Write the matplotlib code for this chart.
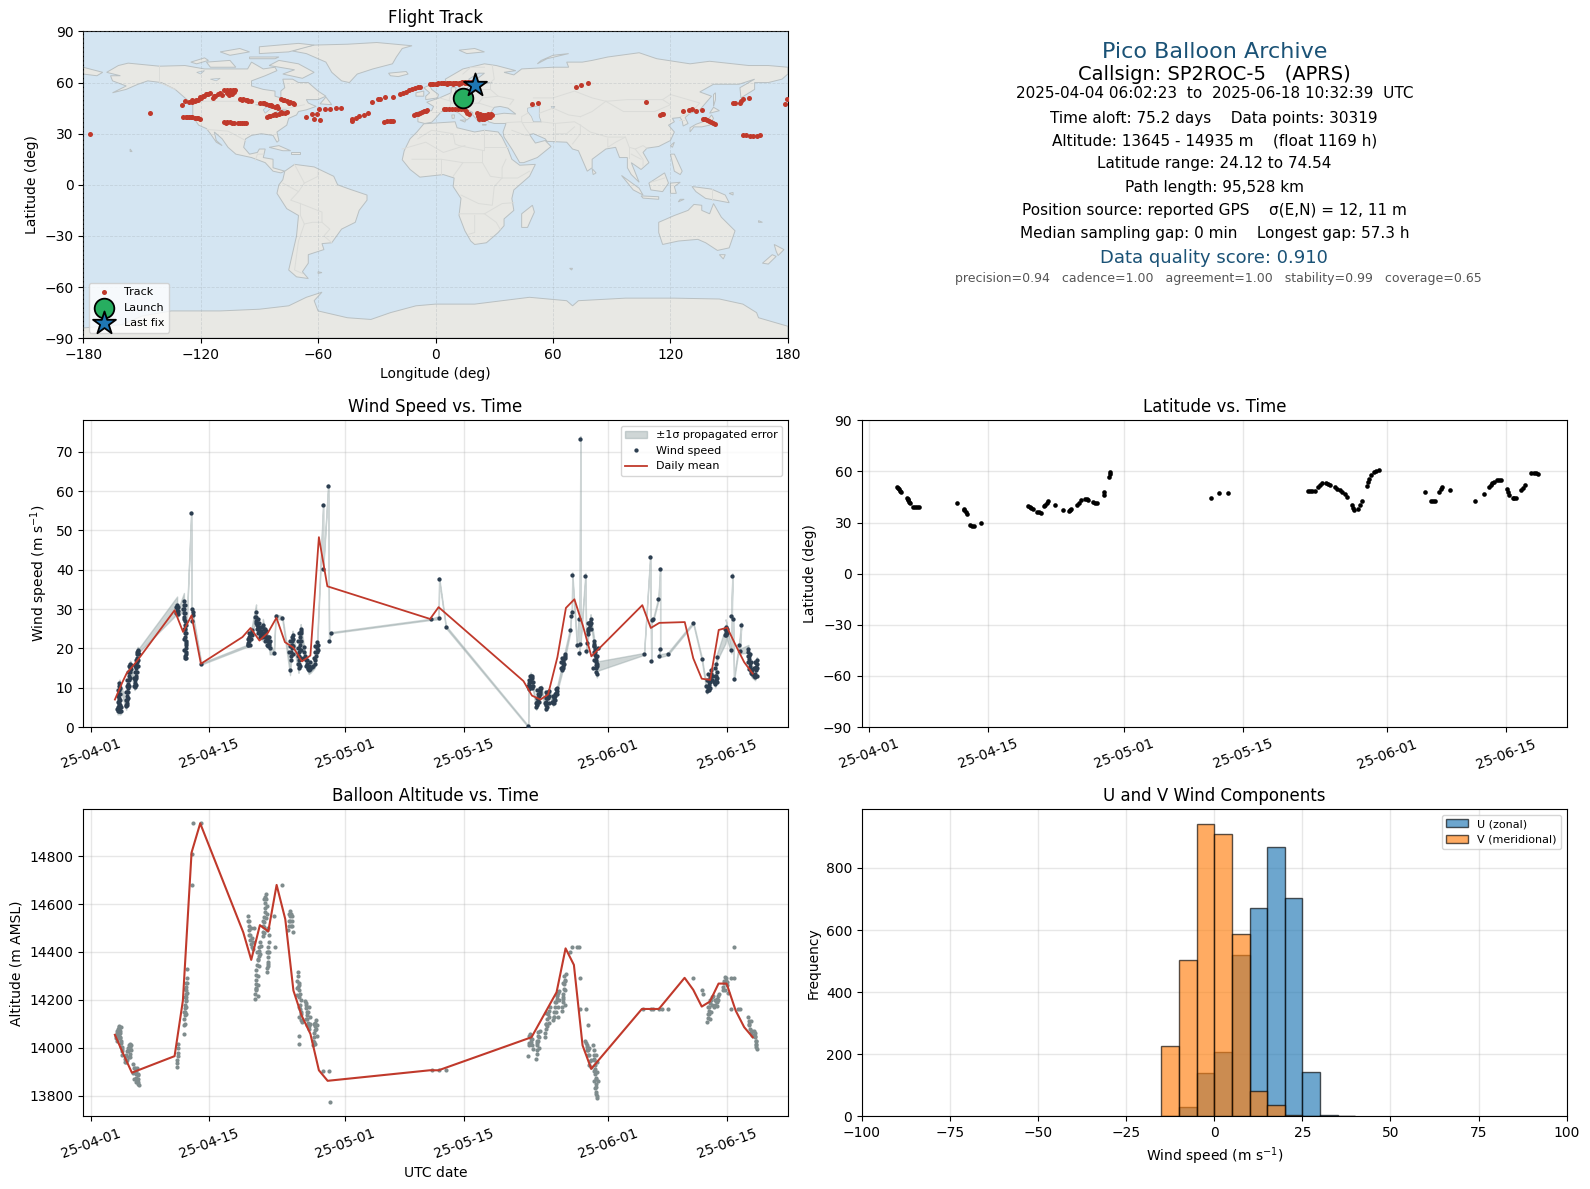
import datetime as dt
import matplotlib
matplotlib.use("Agg")
import matplotlib.pyplot as plt
import matplotlib.dates as mdates
from matplotlib.patches import Polygon

# ---------- map outlines (lon, lat) ----------
north_america = [(-168,66),(-162,70),(-157,71.4),(-141,69.6),(-128,70),(-118,68),(-108,68),(-96,68),(-94,72),(-88,68),(-82,69),(-81,67),(-87,64),(-94,61),(-94,58),(-88,56),(-82,55),(-82,52),(-79,51),(-79,55),(-77,57),(-78,62),(-73,62),(-70,60),(-65,60),(-60,55),(-56,52),(-60,50),(-66,50),(-65,48),(-61,46),(-66,44),(-70,43),(-71,41),(-75,39),(-76,35),(-81,31),(-80,26),(-81,25),(-83,29),(-89,30),(-94,29),(-97,27),(-98,22),(-95,18),(-91,19),(-90,21),(-87,21),(-88,16),(-83,15),(-83,10),(-80,9),(-77,8),(-79,7),(-83,8),(-87,13),(-94,16),(-102,18),(-106,22),(-109,27),(-113,31),(-112,26),(-109,23),(-112,25),(-115,30),(-117,33),(-121,35),(-124,40),(-124,47),(-128,51),(-133,56),(-140,60),(-147,61),(-152,59),(-158,56),(-165,54),(-158,58),(-165,61),(-166,64),(-161,64)]
south_america = [(-77,8),(-72,12),(-62,10.5),(-52,5),(-50,0),(-44,-2.5),(-35,-6),(-35,-9),(-39,-15),(-41,-22),(-48,-26),(-53,-34),(-58,-34.5),(-57,-38),(-65,-41),(-65,-46),(-68,-51),(-65,-55),(-71,-54),(-75,-50),(-73,-40),(-71,-30),(-70,-18),(-76,-14),(-81,-5),(-80,0),(-78,3)]
africa = [(-6,35.8),(10,37),(11,33.5),(20,31),(25,32),(32,31),(34,28),(37,21),(39,15),(43,11.5),(51,12),(48,5),(40,-3),(39,-8),(40,-15),(35,-20),(35,-24),(32,-28),(26,-34),(20,-35),(18,-33),(15,-27),(12,-18),(13,-8),(9,-1),(9.5,4),(4,6),(-4,5),(-8,4.5),(-13,9),(-17,14.7),(-16,20),(-13,27),(-9.5,31)]
eurasia = [(-9,37),(-9,43),(-2,43.5),(-1,46),(-4.5,48.5),(2,51),(8,54),(8,57),(10.5,57),(10,54),(14,54),(20,54.5),(22,59),(29,60),(23,60),(21,62),(25,65.5),(22,65.5),(17,62),(18,60),(16,56),(13,55.5),(11,59),(6,58),(5,62),(14,68),(25,71),(31,70),(41,67),(35,66),(40,64.5),(44,68),(60,69),(68,69),(67,72),(75,72),(80,73),(88,75),(104,77.5),(113,74),(130,71),(140,72.5),(160,70),(170,70),(180,69),(180,65),(177,62),(170,60),(163,60),(163,56),(156,51),(155.5,57),(163,62),(155,59),(142,59),(135,54.5),(141,52),(135,44),(130,42),(127.5,39.5),(129,36),(126.5,34.5),(126,37.5),(125,39.5),(121,39),(122,37),(119,35),(122,31),(120,26),(114,22.5),(108,21.5),(106,19),(109,13),(105,9),(100,13),(104,1.5),(100,6),(98,10),(98,16),(94,16),(92,22),(87,21),(80,15),(80,10),(77.5,8),(73,20),(70,21),(67,25),(57,25.5),(56,27),(50,30),(48,29.5),(51,24.5),(56,26),(59,22.5),(52,16),(45,13),(43,13),(39,21),(35,28),(34.5,31),(36,36),(30,36),(27,37),(26.5,40),(29,41),(35,42),(41,41.5),(37,45),(33,46),(30,45.5),(28,42),(26,40.5),(23,40),(24,38),(22.5,36.5),(19,41),(19,42.5),(14,45),(12.5,44.5),(18,40),(16,38),(12,42),(8.5,44),(3,43),(0,39),(-2,36.7),(-5.5,36)]
greenland = [(-73,78.5),(-66,77),(-56,72),(-53,66),(-48,61),(-44,60),(-40,65),(-32,68),(-22,71),(-20,75),(-17,80),(-12,81.6),(-30,83.5),(-45,82.5),(-62,82),(-68,80.5)]
australia = [(114,-22),(122,-18),(129,-15),(132,-11.5),(136,-12),(136,-15),(140,-17),(142,-11),(146,-19),(153,-27),(150,-37),(144,-38.5),(138,-34),(134,-32),(124,-33),(116,-35),(114,-28)]
antarctica = [(-180,-90),(-180,-84),(-160,-82),(-150,-77),(-135,-74),(-110,-74),(-90,-73),(-75,-71),(-66,-66),(-58,-63),(-62,-68),(-60,-74),(-45,-78),(-33,-79),(-23,-75),(-10,-71),(0,-70),(20,-70),(48,-66),(67,-68),(70,-71),(73,-68),(97,-66.5),(122,-66.5),(145,-67),(157,-70),(164,-75),(165,-78),(180,-83),(180,-90)]
islands = [
    [(49.5,-12),(50.5,-16),(47,-25),(44,-25),(44,-17)],
    [(-5,50),(1,51),(1.5,53),(-2,56),(-3,58.5),(-6,57),(-3,54),(-5,52)],
    [(-10,52),(-6,52),(-6,55),(-10,54)],
    [(-24,65.5),(-15,66.5),(-14,65),(-19,63.5),(-23,64)],
    [(130,31),(132,34),(136,34),(140,35),(142,39),(141,41),(139,38),(133,35.5),(130,33.5)],
    [(140,42),(145,43.5),(142,45.5)],
    [(142,46),(143,50),(143,54),(142,53)],
    [(95,5.5),(104,-2),(106,-6),(101,-3)],
    [(105,-6.5),(114,-7),(114,-8.5),(106,-7.8)],
    [(109,1),(117,7),(119,1),(116,-4),(110,-3)],
    [(120,-5),(120,1),(125,1.5),(122,-1),(123,-5)],
    [(131,-1),(141,-2.5),(148,-6),(150,-10.5),(143,-9),(138,-8),(133,-4)],
    [(120,18),(122,18),(124,13),(126,8),(125,6),(122,8),(121,13)],
    [(120,23),(122,25),(121,22)],
    [(80,9.5),(82,7),(80.5,6)],
    [(173,-35),(178,-38),(175,-41.5),(174,-39)],
    [(172,-41),(174,-42),(170,-46.5),(167,-46)],
    [(145,-41),(148,-41),(147,-43.5)],
    [(-85,22),(-80,23),(-74,20),(-78,20)],
    [(-74,19.5),(-69,19.5),(-69,18),(-74,18)],
    [(52,71),(57,74),(68,77),(60,76),(54,73)],
    [(12,79),(20,80),(25,78),(16,77)],
    [(-80,73),(-70,71),(-62,66),(-68,62.5),(-78,65),(-72,67.5),(-85,70)],
    [(-117,72),(-105,73),(-102,69),(-115,69)],
    [(-125,72),(-118,74.5),(-116,73),(-122,71)],
    [(-90,77),(-75,78),(-62,82),(-70,83),(-90,81)],
    [(-95,75),(-80,75),(-82,74),(-95,74)],
    [(-105,76),(-95,78),(-100,80),(-110,78)],
    [(-59,47.5),(-53,47),(-56,51.5)],
    [(-180,69),(-170,66),(-173,64),(-180,65)],
    [(12.5,38),(15.5,38),(15,36.8)],
    [(8.3,41),(9.7,41),(9.5,39),(8.5,39)],
    [(24,35.5),(26,35.2),(24,35)],
    [(68.5,-49),(70,-49),(69.5,-50)],
    [(-156,21),(-155,19.5),(-156,19.5)],
    [(-60,-51),(-58,-51.5),(-60,-52)],
    [(125,-8.5),(127,-8.5),(124,-10)],
    [(150,-5),(152,-4.5),(152,-6)],
    [(165,-21),(167,-22),(165,-22)],
]
water_bodies = [
    [(47,45),(53,46.5),(53,40),(54,37),(50,37),(49,40),(47,43)],
    [(-92,47),(-85,47.5),(-84.5,46),(-80,45.5),(-81,43),(-83,42),(-79,43),(-76,44),(-80,44.5),(-84,45),(-87,42),(-88,44),(-86,46)],
    [(59,46),(61,46),(60,44.5)],
    [(-122,66),(-118,67),(-120,65)],
    [(-115,62),(-110,62.5),(-112,61)],
]
borders = [
    [(-123,49),(-95,49),(-88,48),(-82,45),(-75,45),(-67,47)],
    [(-141,70),(-141,60),(-133,56)],
    [(-117,32.5),(-106,31.5),(-97,26)],
    [(-92,14.5),(-91,18),(-88,18)],
    [(-72,12),(-67,1),(-70,-4),(-74,-9),(-69,-11),(-69,-18)],
    [(-78,1),(-70,-4)],
    [(-60,8),(-60,5),(-67,1)],
    [(-69,-11),(-58,-16),(-58,-22),(-54,-26),(-57,-30),(-53,-34)],
    [(-69,-18),(-67,-23),(-70,-33),(-72,-50),(-68,-52)],
    [(-58,-22),(-63,-22),(-67,-23)],
    [(-9,27),(-2,32),(9,30),(10,24),(12,23),(25,20),(25,32)],
    [(25,22),(37,22)],
    [(-17,21),(-5,25),(4,19),(15,23)],
    [(-12,15),(3,15),(14,13),(24,13),(24,20)],
    [(3,15),(3,6)],
    [(14,13),(9,5)],
    [(24,13),(28,5),(34,4),(42,4),(48,8)],
    [(36,15),(34,10),(34,4)],
    [(34,4),(30,-1),(29,-12),(22,-11),(13,-6)],
    [(40,-10.5),(34,-11),(25,-17),(12,-17)],
    [(33,-26),(31,-22),(25,-17)],
    [(20,-18),(20,-28),(17,-29)],
    [(-2,43),(3,43)],
    [(2,51),(8,49),(7,44)],
    [(8,54),(7,50),(8,48),(13,47),(14,51),(14,54)],
    [(13,47),(22,48),(24,51),(23,54)],
    [(22,48),(29,45.5)],
    [(24,51),(32,52),(40,50),(38,47)],
    [(28,56),(32,52)],
    [(28,60),(28,56),(21,56)],
    [(29,70),(30,62),(28,60)],
    [(14,65),(18,69),(25,69)],
    [(47,42),(44,40),(44,37),(36,36.5)],
    [(44,37),(46,33),(48,30)],
    [(39,32),(46,29),(48,29)],
    [(44,37),(54,37)],
    [(61,36),(61,25)],
    [(54,37),(61,36),(71,37),(74,35)],
    [(61,30),(67,30),(71,34)],
    [(53,42),(60,45),(68,41),(74,40)],
    [(50,51),(60,51),(71,55),(80,51),(87,49)],
    [(87,49),(98,50),(108,50),(116,50),(120,53),(135,48),(131,43)],
    [(87,49),(96,43),(112,43),(120,47),(116,50)],
    [(74,40),(80,43),(87,49)],
    [(74,35),(79,31),(88,28),(97,28),(99,22),(102,21),(106,23),(108,21.5)],
    [(74,35),(74,30),(70,24)],
    [(88,27),(88,22),(92,25),(97,28)],
    [(99,22),(99,16)],
    [(102,21),(106,15),(106,11)],
    [(100,18),(105,15)],
    [(130,42),(125,40)],
    [(127,38),(124.5,38)],
    [(141,-2.5),(141,-9)],
    [(110,1.5),(117,4)],
]

# ---------- track ----------
track_lon = [-176.6,-145.6,-129.4,-125.8,-124.5,-123,-121.5,-120,-119,-117.5,-116,-115,-113.8,-112.5,-111,-110.2,-107.8,-106.5,-105,-103.5,-102.5,-106.5,-105.4,-104,-100,-98.5,-97,-95.7,-89.7,-88,-86.5,-85,-83.5,-82,-80.5,-78.9,-77.5,-76,-74.5,-73,-72.1,
             -129,-127.5,-126,-124.5,-123,-121.5,-120.3,-108.2,-106.5,-105,-103,-101,-99,-97,-86.1,-84.5,-83,-81.5,-80,-78.5,-77,-76,
             -66.1,-63.2,-60.3,-62,-58.9,-59.4,-56.5,-53.8,-50.7,-48.3,-42.7,-42.5,-40.8,-38.9,-36.7,-34.3,-26.4,-25,-23.5,-22.5,-21.6,-32.6,-29.5,-28.5,-25.7,-21.6,-18.2,-16.5,-15.1,-13.5,-11.9,-10.5,-9,-7.8,
             -3,-1.5,0,1.5,3,4.5,6,7.5,9,10.5,12,13.5,15,16.5,18,19.9,-11,-10,-9,-8,-7,-6,-5,-4.2,
             4.2,5.5,7,8.5,10,11.5,13,14.5,15.5,16.3,17,21,22.5,24,25.5,27,28.5,29,21.5,23,24.5,26,27.5,22,23.5,25,26.5,23,24.5,26,
             49.5,52.6,71.6,74.5,78.1,107.3,114.5,115.5,116,126.3,129.4,131.1,133,135.9,136.6,137.5,138.5,139.5,140.5,141.5,142.7,
             152,153,155.9,157.1,155.7,160,157,158.5,160.5,162,164,165.5,178.3,179.3,
             -128,-124.5,-122.5,-120.5,-118.5,-116.5,-113,-109,-106,-104.5,-102.8,-99,-96.5,-94.5,-87.5,-84,-81,-78,-75,-127,-125,-122,-107,-104,-100,-98,-85,-82,-79,
             -2,1,4,7,10,13,16,19,6,9,12,15,22,24,26,28,22.5,25,27.5]
track_lat = [30,42.4,47,48.6,48.8,49,50,51,52,53,53.5,53.7,51.2,52,53,53.7,55.5,55.5,55.7,55.5,55.5,54,52.5,53.2,50.6,50.2,49.8,49.2,48.2,47.8,47.3,46.8,46.3,45.8,45.3,50.2,49.7,49.2,48.6,48,47.3,
             40,40,39.8,39.6,39.4,39.2,38.9,36.9,36.7,36.6,36.5,36.5,36.5,36.5,40,40.4,40.8,41.2,41.6,42,42.4,42.8,
             40,41.4,41.4,38.9,38.1,44.7,44.7,44.7,44.9,45.3,38.5,37.6,39.3,40.4,41.2,42.4,37.1,37.3,37.5,37.6,37.7,48.8,50.2,50.4,51.8,51.8,53.5,54.1,54.7,55.5,56.4,57,57.3,57.6,
             59.4,59.4,59.4,59.5,59.5,59.6,59.7,59.8,59.9,60,60,60.1,60.1,60.2,60.2,60.3,40.8,41.3,41.8,42.3,42.8,43.2,43.6,43.9,
             44.7,44.7,44.7,44.6,44.6,44.5,44.5,44.3,43.4,42.4,41.4,42.4,41.8,41,41,41.8,41.4,40.8,40.4,40,39.6,39.5,40.5,38.5,38.5,38.8,39.5,39.2,39.8,40.2,
             47.3,47.8,57.6,58.8,60,48.8,41,41.4,41.8,43.6,43.8,44.7,43.2,43.8,38.9,38.4,38,37.5,37,36.3,35.5,
             48.2,48.2,49.2,50.6,47.8,51.2,29,29,28.7,28.5,28.8,29,47.7,50.2,
             49,49.5,50,51.5,52.3,53,52,52.5,54.5,54,54.5,50,49.7,49,48,46.6,46.2,49.8,48.3,40,39.8,39.2,36.5,36.4,36.4,36.4,40.3,41.3,42.5,
             59.2,59.2,59.6,59.6,59.8,59.9,60,60,59,59.2,59.4,59.6,39.6,39.2,39.2,39.6,40.8,40.2,39.6]
launch_lon = [14.2]
launch_lat = [51.0]
last_lon = [20.3]
last_lat = [58.7]

# ---------- wind speed (days since 1 April) ----------
wind_day = [3.2,3.3,3.4,3.5,3.6,3.3,3.4,3.5,3.3,3.4,3.3,3.35,3.4,3.4,
            4.2,4.25,4.3,4.25,4.3,4.4,4.45,4.5,4.5,4.55,4.6,4.65,4.75,4.75,
            5.2,5.2,5.25,5.3,5.3,5.3,5.35,5.45,5.45,5.5,5.55,5.65,
            10.2,10.2,10.2,10.25,
            11.0,11.0,11.05,11.05,11.05,11.1,11.1,11.15,11.15,11.15,11.2,11.2,11.2,11.2,11.15,11.15,
            11.86,11.9,12.0,12.1,12.05,13.05,
            18.6,18.6,18.7,18.7,18.8,18.85,19.0,
            19.5,19.5,19.55,19.6,19.7,19.8,19.9,20.0,20.1,20.2,
            20.3,20.4,20.5,20.6,20.7,20.8,20.9,21.0,21.05,21.1,
            21.6,21.8,22.6,
            23.5,23.6,23.6,23.65,23.7,23.7,23.75,23.75,23.8,
            24.5,24.5,24.55,24.55,24.6,24.6,24.65,24.65,24.7,24.7,24.75,24.75,
            25.1,25.2,25.3,25.4,25.5,25.6,25.7,25.9,26.2,26.4,26.5,26.6,26.65,26.7,26.7,
            27.4,27.4,28.0,28.1,28.3,
            40.1,41.0,41.07,41.86,51.55,
            51.6,51.65,51.7,51.8,51.85,51.95,52.0,52.1,
            52.5,52.55,52.6,52.7,52.8,52.9,53.0,53.1,
            53.6,53.65,53.7,53.75,53.8,53.9,54.0,
            54.5,54.55,54.65,54.7,54.8,54.9,55.0,
            55.5,55.55,55.6,55.65,55.7,55.75,55.9,55.9,
            56.5,56.6,56.7,56.75,57.3,57.5,57.6,57.7,57.7,58.3,58.4,58.5,
            58.6,58.65,58.7,58.8,58.85,58.9,
            59.3,59.3,59.35,59.4,59.4,59.45,59.5,59.5,59.55,59.6,59.6,59.65,59.7,
            65.2,65.93,66.05,66.1,66.3,66.9,67.1,67.1,67.0,68.0,71.0,72.0,
            72.6,72.7,72.8,72.85,72.9,73.0,73.05,73.1,
            73.6,73.65,73.7,73.75,73.6,73.7,73.8,
            74.8,74.85,74.9,74.8,75.5,75.6,75.5,75.7,75.8,76.4,76.65,76.5,
            77.5,77.5,77.55,77.6,77.65,77.7,77.75,77.8,77.9,
            78.3,78.3,78.35,78.4,78.45,78.5]
wind_speed = [4,4.5,4,4,4.2,5.5,6,5.5,7,7.5,8.5,9.5,10.5,11.3,
              5.3,6.2,7,8,9,10,11,12,13,14,15,16,15.7,14.8,
              10.3,11.2,12,13,14,15,16,16.5,17.5,18.5,19.5,19.4,
              31,30.3,29.5,28.8,
              32,31,30,29,28,27,26,25,24,23,22,21,20,19,18,17.5,
              54.5,30,27,29.2,28.4,16.1,
              20.8,21.5,22,22.8,23.4,24,24.6,
              29.2,28,27,26,25.5,25,24.5,24,23.5,23,
              26,25,24,23.5,23,22.5,22,21.5,21,20,
              18.9,28.2,27.7,
              14.4,17,18,19,20,21,22,23,23.3,
              15,16,17,18,19,20,21,22,23,24,24.5,25,
              20.3,19,18,17,16,15,14.5,14.8,15.5,16,17,18,19,20,21.6,
              56.4,40.3,61.4,22,24,
              27.4,27.8,37.7,25.5,0.2,
              9.7,10.5,11.2,12,13.1,12.5,11.5,10.5,
              5,5.8,6.5,7.2,8,8.8,9.5,10,
              4.7,5.5,6.5,7.5,8.3,9,9.3,
              6,6.8,7.3,8,8.6,9.3,10,
              14.4,15,15.6,16.2,16.8,17.5,18,18.6,
              24.6,28.3,29.3,38.7,20.9,27.5,18.9,73.3,21.2,38.5,19.4,21.4,
              23.7,24.5,25.2,26,26.8,27.5,
              22,21.2,20.5,19.8,19,18.4,17.7,17,16.5,15.8,15,13.6,15.5,
              18.6,43.3,16.9,27.3,27.5,32.6,40.2,19.9,18.1,18.6,26.5,17.4,
              9.3,10,10.7,11.4,12,12.8,13.6,14.4,
              11,12,13,14,15,16,17.8,
              23.3,24,24.7,25.4,19.5,38.5,28.3,27.5,12.3,20.9,26,19.3,
              19.9,19,18,17.2,16.4,15.6,14.8,14.2,13.6,
              12.7,13.6,14.5,15.4,16.2,17]
wind_sigma = [0.8]*14 + [0.9]*14 + [0.9]*11 + [0.5] + [2.2,1.3,0.8,0.8] + [2.1,1.8,1.3,1.0,1,1,1,1,1,1,1,1,1,1,1,0.4] + [0.4,0.6,0.6,0.5,0.5,0.2] + \
             [0.25,1.0,1,1,1,1,1] + [2.0,2.0,1.5,1.5,1.5,1.5,1.5,1,1,1] + [1.5]*10 + [0.4,0.5,0.5] + [1.2]*9 + [1.2]*12 + [1.0]*15 + [0.5,0.4,0.4,0.3,0.15] + \
             [0.15,0.4,0.4,0.3,0.2] + [0.8]*8 + [0.6]*8 + [0.6]*7 + [0.7]*7 + [1.0]*8 + [0.7]*12 + [1.2]*6 + \
             [1,1,1,1,1,1,1,1,1,1,1,1,1.2] + [0.25,0.4,0.4,0.4,0.4,0.4,0.4,0.4,0.4,0.3,0.3,0.4] + [0.8]*8 + [0.9]*7 + [2.0,2.0,2.0,2.0,0.8,0.6,0.6,0.6,0.5,0.6,0.6,0.6] + [1.0]*9 + [0.8]*6

# extra points that fill the dense clusters (markers only)
wind_extra_day = [3.15,3.25,3.45,3.6,3.2,3.45,3.25,3.45,3.25,3.45,
                  4.15,4.35,4.15,4.4,4.2,4.45,4.3,4.55,4.35,4.6,4.45,4.7,4.5,
                  5.1,5.35,5.15,5.4,5.2,5.45,5.25,5.55,5.35,5.6,5.45,5.7,
                  10.1,10.3,10.1,10.3,
                  11.1,10.95,11.15,11.0,11.25,11.0,11.3,11.05,11.3,11.05,11.3,11.25,
                  18.5,18.8,18.6,18.9,18.7,19.0,
                  19.4,19.7,19.45,19.8,19.6,19.95,19.75,20.1,19.95,20.25,
                  20.2,20.5,20.3,20.65,20.45,20.85,20.6,21.0,20.75,21.1,20.85,
                  23.4,23.8,23.45,23.85,23.5,23.85,
                  24.4,24.7,24.4,24.75,24.45,24.8,24.45,24.8,24.5,24.8,
                  25.2,25.5,25.35,25.7,25.6,25.9,26.1,26.3,26.5,26.8,26.5,26.8,
                  51.55,51.75,51.95,51.6,51.75,51.95,52.1,
                  52.45,52.65,52.85,52.55,52.75,53.0,52.65,52.9,
                  53.55,53.75,53.95,53.6,53.85,53.7,54.05,
                  54.4,54.6,54.75,54.5,54.7,54.95,54.8,
                  55.4,55.7,55.45,55.8,55.5,55.85,
                  58.55,58.9,58.6,58.95,
                  59.2,59.55,59.25,59.65,59.3,59.7,59.35,59.75,
                  72.5,72.8,73.0,72.6,72.95,73.15,72.7,73.2,
                  73.5,73.8,73.55,73.85,
                  74.7,75.0,74.7,75.0,
                  77.4,77.7,77.45,77.8,77.6,77.95,77.8,
                  78.2,78.55,78.2,78.55,78.25,78.5]
wind_extra_speed = [4.5,5,5,5,6.5,6.8,8,8.5,9.5,10,
                    5.5,5.5,7,7.5,9,9,10.5,10.5,12,12.5,14,14,15.5,
                    10.5,10.8,12.5,12.5,14,14,15.5,15.5,17,17,19,18.5,
                    29,29.5,30.5,30.5,
                    31,30,29,27.5,26,25,24,22.5,21.5,19.5,18.5,17.5,
                    21,21,22.5,22.5,24,23.5,
                    28,27.5,26.5,26.5,25,25.5,24,24.5,23,23.5,
                    25.5,25,24,24.5,23,23,22,23,21,22,20.5,
                    19,18.5,20.5,20.5,22,22.5,
                    16,15.5,18,17.5,20,19.5,22,22,24,24,
                    17.5,17,15.5,15.5,14.8,16.5,15.3,17.5,19,19.5,20.5,21,
                    10.5,10.5,10,12,13,13,11.5,
                    6,5.5,6.5,7.5,8.5,8.5,9.5,10,
                    6,5,6,7.5,7.5,9,8,
                    6.5,6,7,7.8,8.5,8.5,9.8,
                    15,15,16.5,16,17.5,17.5,
                    25,25,26.5,26.5,
                    15,14,17,16,19,18,20.5,20,
                    10.5,9.5,10,12,11.5,12,13.5,13,
                    11.5,11.5,13,12.5,
                    23.5,24,25,25,
                    18,18.5,16.5,16.5,14.8,14.5,13.7,
                    13,13,15,15,16.5,16]

mean_day = [2.87,3.73,4.24,5.54,9.9,10.9,11.9,13.0,17.9,18.85,19.9,20.9,21.9,22.9,23.9,24.9,25.9,26.9,27.9,40.0,41.0,51.0,52.0,53.0,53.9,55.0,56.0,57.0,58.0,59.0,65.0,66.0,67.0,70.0,71.0,72.0,73.0,74.0,75.0,76.0,77.0,78.0]
mean_speed = [7.0,11.3,13.6,17,29.7,24.2,28.4,16.1,22.9,25.2,22,24,27.8,21.6,20.2,16.7,18.2,48.3,35.8,27.5,30.5,11.7,8,7,8.3,17.8,30.3,32.5,25.8,18,31,25.2,26.5,26.7,17.5,12.3,12,24.7,25.3,20.8,16.5,13.6]

# ---------- latitude ----------
lat_day = [3.3,3.4,3.5,3.6,3.7,4.4,4.5,4.6,4.7,4.8,5.2,5.4,5.6,5.85,10.3,11.1,11.2,11.35,11.5,11.9,12.1,12.3,13.2,
           18.7,18.9,19.1,19.3,19.7,19.95,20.2,20.6,20.75,20.9,21.1,21.85,22.8,23.5,23.65,23.8,24.5,24.7,24.9,25.4,25.6,25.8,26.4,26.6,26.8,27.6,27.6,28.2,28.3,28.4,
           40.3,41.2,42.2,51.7,51.95,52.2,52.5,52.8,53.05,53.3,53.8,54.05,54.3,54.8,55.1,55.4,55.7,56,56.3,56.9,57,57.1,57.6,57.8,58,58.6,58.75,58.9,59.1,59.4,59.7,60,
           65.5,66.2,66.4,66.6,67.1,67.3,67.5,68.4,71.3,72.4,73,73.2,73.4,73.6,73.9,74.15,74.4,75.1,75.25,75.4,75.8,76,76.2,76.8,77,77.2,78,78.3,78.55,78.8]
lat_val = [51,50.2,49.5,48.8,48,44.7,44,43,42,41.2,39.2,39.2,39.2,39.2,41.2,38.2,37.5,36.4,35.3,28.4,28.1,28,30,
           39.6,39.2,38.7,38.2,36.3,36,35.9,39.6,40.6,41.6,42.7,40.6,37.3,36.7,37.2,37.8,40.2,41.6,43.1,44.1,44.1,43.5,42,41.6,41.2,46,48,56.9,58.3,59.8,
           44.7,47.6,47.1,48.6,48.6,48.6,48.6,51,52.2,53.3,53.5,52.8,52,50.6,49.8,49,48,46.6,45.1,40.2,38.8,37.3,38.2,40.3,42.5,51.6,53.6,55.6,57.8,59.4,60.2,60.8,
           48.2,42.9,42.9,42.9,48,49.5,51,49.4,42.4,47,51,52,53,53.9,54.9,54.9,54.9,49.6,47.8,46,44.7,44.7,44.7,49,50.5,52,59.2,59,58.9,58.8]

# ---------- altitude ----------
alt_day = [3.0,3.05,3.1,3.15,3.2,3.3,3.35,3.4,3.45,3.5,3.5,3.55,3.6,3.65,3.6,3.7,
           4.05,4.1,4.2,4.3,4.4,4.5,4.6,4.7,4.8,4.7,
           5.0,5.1,5.2,5.3,5.4,5.5,5.6,5.7,5.5,5.6,5.65,
           10.2,10.2,10.2,10.25,10.25,10.25,10.3,
           11.0,11.0,11.05,11.1,11.1,11.15,11.15,11.2,11.2,11.25,11.25,11.3,11.35,11.4,
           11.94,11.98,12.1,13.04,
           18.6,18.6,18.65,18.7,18.75,18.8,18.9,19,19.1,19.2,
           19.4,19.4,19.45,19.45,19.5,19.5,19.55,19.6,19.7,19.8,19.85,19.9,20,20.1,
           20.3,20.35,20.4,20.4,20.45,20.5,20.55,20.6,20.65,20.7,20.8,20.9,
           20.8,20.85,20.85,20.9,20.9,20.95,21,21,
           21.64,21.76,22.6,
           23.3,23.4,23.45,23.5,23.55,23.65,23.7,23.8,23.75,
           24.3,24.3,24.35,24.4,24.45,24.5,24.55,24.6,24.65,24.7,24.75,24.9,24.6,24.6,
           25.3,25.35,25.4,25.45,25.5,25.55,25.6,25.7,25.75,25.8,
           26.2,26.25,26.3,26.35,26.4,26.45,26.5,26.6,26.7,
           27.4,28.1,28.2,40.2,41,41.85,51.56,
           51.6,51.7,51.8,51.9,52,52.1,
           52.5,52.6,52.6,52.65,52.7,52.75,52.9,
           53.5,53.55,53.6,53.7,53.8,53.9,54,54.1,
           54.5,54.55,54.6,54.7,54.8,54.9,55,55.1,55.2,
           55.5,55.55,55.6,55.65,55.7,55.75,55.8,55.9,56,
           56.5,56.7,57.3,57.6,57.7,57.7,58.4,58.6,
           58.3,58.4,58.5,58.6,58.7,58.8,58.9,
           59.2,59.25,59.3,59.35,59.4,59.4,59.45,59.5,59.5,59.55,59.6,59.65,59.7,59.8,
           65.1,66,66.3,67,67.3,68,71,72,72.1,
           72.6,72.7,72.8,72.85,72.9,73,73.1,73.2,73.3,
           73.5,73.6,73.7,73.8,73.9,74,
           74.5,74.6,74.7,74.8,74.9,75,75.1,
           75.5,75.8,75.8,75.5,76.5,76.3,
           77.5,77.55,77.6,77.7,77.8,77.9,78,
           78.2,78.25,78.3,78.35,78.4,78.45,78.5,
           3.1,3.25,3.4,3.2,3.45,3.3,3.55,3.7,3.75,
           4.15,4.3,4.5,4.7,4.4,4.6,4.75,4.2,
           5.05,5.25,5.35,5.15,5.4,5.6,5.65,
           11.1,11.05,11.3,11.1,11.35,11.2,11.4,11.1,11.3,11.25,
           18.7,18.85,18.65,19,19.15,
           19.55,19.7,19.75,19.9,20,19.65,19.5,19.7,19.75,
           20.4,20.55,20.35,20.7,20.4,20.75,20.3,20.8,
           20.75,20.95,20.75,21,
           23.35,23.6,23.75,23.4,
           24.4,24.55,24.7,24.8,24.6,24.8,24.55,24.75,
           25.4,25.65,25.8,25.55,25.4,25.7,
           26.3,26.55,26.65,26.3,26.45,
           51.65,51.9,52.05,52.55,52.8,52.6,52.85,52.7,
           53.6,53.8,53.65,53.95,54,
           54.6,54.85,55.05,54.7,54.95,55.1,55.15,
           55.6,55.85,55.95,55.75,55.6,55.95,
           58.5,58.75,58.45,58.65,58.9,58.75,
           59.3,59.6,59.65,59.3,59.7,59.35,59.6,59.45,59.55,
           72.7,72.95,73.2,72.75,73.05,73,
           73.6,73.85,73.95,73.75,
           74.55,74.75,75,74.65,
           77.6,77.75,77.95,78.3,78.45,78.35]
alt_val = [14040,14050,14060,14070,14080,14090,14088,14080,14070,14060,14045,14030,14020,14005,14085,13995,
           13940,13955,13970,13985,14000,14010,14017,14005,13990,13960,
           13933,13915,13900,13890,13875,13865,13855,13843,13915,13890,13870,
           13920,13935,13950,13965,13980,14000,14015,
           14058,14095,14120,14135,14150,14165,14180,14195,14210,14225,14240,14255,14270,14330,
           14808,14679,14937,14937,
           14551,14530,14510,14490,14470,14450,14435,14420,14413,14500,
           14204,14225,14245,14265,14285,14305,14325,14345,14365,14385,14405,14420,14440,14425,
           14468,14485,14505,14525,14545,14565,14585,14605,14620,14642,14560,14500,
           14315,14340,14360,14380,14400,14420,14440,14470,
           14550,14421,14679,
           14490,14510,14530,14550,14572,14560,14530,14482,14510,
           14220,14250,14280,14315,14300,14270,14240,14210,14180,14160,14140,14107,14051,14017,
           14197,14180,14165,14150,14135,14120,14105,14090,14079,14100,
           14010,14030,14045,14060,14075,14090,14105,14114,14095,
           13904,13904,13775,13906,13906,13906,13967,
           14020,14050,14058,14035,14010,13996,
           13954,13990,14010,14030,14050,14065,14072,
           14044,14060,14080,14100,14120,14140,14155,14170,
           14114,14130,14150,14170,14190,14205,14220,14230,14239,
           14155,14170,14190,14205,14225,14245,14265,14285,14308,
           14399,14421,14421,14421,14292,14162,14162,14096,
           14030,14020,14005,13990,13970,13945,13919,
           14010,13990,13970,13950,13930,13910,13890,13870,13850,13835,13815,13800,13790,13860,
           14162,14162,14162,14162,14162,14162,14292,14242,14225,
           14107,14125,14140,14155,14170,14185,14200,14210,14218,
           14170,14180,14195,14205,14215,14225,
           14240,14270,14297,14290,14280,14260,14228,
           14292,14292,14421,14162,14162,14162,
           14128,14110,14095,14080,14065,14055,14051,
           14072,14060,14045,14030,14015,14005,13996,
           14030,14040,14050,14060,14040,14075,14005,13985,13970,
           13965,13950,13960,13975,13985,13995,14010,13940,
           13895,13915,13905,13870,13855,13850,13885,
           14100,14150,14170,14210,14230,14270,14290,14245,14200,14140,
           14530,14500,14470,14460,14440,
           14240,14260,14300,14340,14390,14400,14250,14215,14370,
           14620,14630,14530,14540,14480,14490,14510,14590,
           14335,14350,14400,14400,
           14530,14510,14550,14560,
           14255,14260,14225,14200,14170,14150,14130,14115,
           14185,14150,14130,14095,14120,14170,
           14100,14080,14050,14025,14015,
           14010,14025,14035,14020,14000,13975,14045,14030,
           14100,14090,14145,14130,14105,
           14130,14150,14170,14190,14215,14130,14200,
           14210,14180,14240,14300,14270,14280,
           14010,14000,13990,13970,13950,13930,
           13955,13970,13940,13905,13900,13860,13875,13830,13805,
           14170,14200,14180,14140,14150,14120,
           14200,14190,14200,14175,
           14255,14240,14275,14280,
           14100,14110,14070,14050,14030,14010]
alt_mean_day = [2.87,3.85,4.87,9.9,10.88,11.9,12.92,17.99,18.93,19.95,20.94,21.92,22.94,23.9,24.86,25.9,26.9,27.93,39.97,41,51.95,54.9,55.96,56.94,57.96,58.98,64.95,66.95,69.98,71,72,72.96,73.98,74.93,76,77,78]
alt_mean = [14054,13975,13896,13965,14197,14815,14937,14482,14367,14512,14486,14680,14537,14239,14135,14058,13906,13862,13906,13906,14044,14232,14415,14346,14010,13912,14162,14162,14292,14242,14172,14193,14268,14268,14155,14086,14044]

# ---------- histogram ----------
bin_left = [-15,-10,-5,0,5,10,15,20,25,30,35]
u_counts = [2,29,139,206,519,671,867,703,144,6,2]
v_counts = [228,503,942,910,587,83,38,5,0,0,0]

# ---------- text ----------
info_lines = ["2025-04-04 06:02:23  to  2025-06-18 10:32:39  UTC",
              "Time aloft: 75.2 days    Data points: 30319",
              "Altitude: 13645 - 14935 m    (float 1169 h)",
              "Latitude range: 24.12 to 74.54",
              "Path length: 95,528 km",
              "Position source: reported GPS    σ(E,N) = 12, 11 m",
              "Median sampling gap: 0 min    Longest gap: 57.3 h"]
info_y = [92.5, 116.5, 139.5, 161.5, 184.5, 207.5, 230.5]

BASE = dt.datetime(2025, 4, 1)
def to_dates(days):
    return [BASE + dt.timedelta(days=d) for d in days]

W, H = 1568.0, 1172.5
def add_ax(l, r, t, b):
    return fig.add_axes([l / W, 1 - b / H, (r - l) / W, (b - t) / H])

fig = plt.figure(figsize=(15.9, 11.89), dpi=100)
GRID = dict(color="#b0b0b0", alpha=0.3, linewidth=1.0)

# Map
ax = add_ax(82, 777, 31, 333.5)
ax.set_facecolor("#d4e5f2")
LAND, EDGE = "#e8e8e4", "#b9c0c2"
land_shapes = [north_america, south_america, africa, eurasia, greenland, australia, antarctica] + islands
for poly in land_shapes:
    ax.add_patch(Polygon(poly, closed=True, facecolor=LAND, edgecolor=EDGE, linewidth=0.7, zorder=2))
for poly in water_bodies:
    ax.add_patch(Polygon(poly, closed=True, facecolor="#d4e5f2", edgecolor=EDGE, linewidth=0.5, zorder=2.1))
for line in borders:
    ax.plot([p[0] for p in line], [p[1] for p in line], color="#dbdcd9", linewidth=0.7, zorder=2.2)
ax.grid(True, color="#9aa5ab", alpha=0.3, linewidth=0.6, linestyle="--")
ax.set_axisbelow(False)
ax.scatter(track_lon, track_lat, s=13, color="#c0392b", linewidths=0, zorder=3, label="Track")
ax.scatter(launch_lon, launch_lat, s=200, color="#27ae60", edgecolors="black", linewidths=1.3, zorder=4, label="Launch")
ax.scatter(last_lon, last_lat, s=300, marker="*", color="#1f77b4", edgecolors="black", linewidths=1.3, zorder=5, label="Last fix")
ax.set_xlim(-180, 180)
ax.set_ylim(-90, 90)
ax.set_xticks(range(-180, 181, 60))
ax.set_yticks(range(-90, 91, 30))
ax.set_xlabel("Longitude (deg)")
ax.set_ylabel("Latitude (deg)")
ax.set_title("Flight Track", fontsize=12)
ax.legend(loc="lower left", fontsize=8, framealpha=0.8)

# Text panel
def panel_text(y, s, x=1197.5, **kw):
    fig.text(x / W, 1 - y / H, s, ha="center", va="center", **kw)
panel_text(51, "Pico Balloon Archive", fontsize=16, color="#1a5276")
panel_text(73, "Callsign: SP2ROC-5   (APRS)", fontsize=14, color="black")
for y, s in zip(info_y, info_lines):
    panel_text(y, s, fontsize=11, color="black")
panel_text(254.5, "Data quality score: 0.910", fontsize=13, color="#1a5276")
panel_text(274.5, "precision=0.94   cadence=1.00   agreement=1.00   stability=0.99   coverage=0.65", x=1201.5, fontsize=9, color="#555555")

def style_time(ax):
    ax.xaxis.set_major_locator(mdates.DayLocator(bymonthday=[1, 15]))
    ax.xaxis.set_major_formatter(mdates.DateFormatter("%y-%m-%d"))
    ax.set_xlim(to_dates([-0.87])[0], to_dates([82.15])[0])
    ax.tick_params(axis="x", labelrotation=20)
    ax.grid(True, **GRID)
    ax.set_axisbelow(True)

# Wind
ax = add_ax(82, 777, 414.5, 717)
wd = to_dates(wind_day)
lo = [s - e for s, e in zip(wind_speed, wind_sigma)]
hi = [s + e for s, e in zip(wind_speed, wind_sigma)]
ax.fill_between(wd, lo, hi, color="#95a5a6", alpha=0.45, linewidth=1.0, label="±1σ propagated error", zorder=2)
ax.plot(to_dates(wind_extra_day), wind_extra_speed, linestyle="none", marker="o", markersize=3.1, markeredgewidth=0, color="#2c3e50", zorder=3)
ax.plot(wd, wind_speed, linestyle="none", marker="o", markersize=3.1, markeredgewidth=0, color="#2c3e50", label="Wind speed", zorder=3)
ax.plot(to_dates(mean_day), mean_speed, color="#c0392b", linewidth=1.3, label="Daily mean", zorder=4)
style_time(ax)
ax.set_ylim(0, 78)
ax.set_yticks(range(0, 71, 10))
ax.set_ylabel("Wind speed (m s$^{-1}$)")
ax.set_title("Wind Speed vs. Time", fontsize=12)
ax.legend(loc="upper right", fontsize=8)

# Latitude
ax = add_ax(850, 1545, 414.5, 717)
ax.scatter(to_dates(lat_day), lat_val, s=11, color="black", linewidths=0, zorder=3)
style_time(ax)
ax.set_ylim(-90, 90)
ax.set_yticks(range(-90, 91, 30))
ax.set_ylabel("Latitude (deg)")
ax.set_title("Latitude vs. Time", fontsize=12)

# Altitude
ax = add_ax(82, 777, 798, 1101)
ax.scatter(to_dates(alt_day), alt_val, s=9, color="#7f8c8d", linewidths=0, zorder=3)
ax.plot(to_dates(alt_mean_day), alt_mean, color="#c0392b", linewidth=1.5, zorder=4)
style_time(ax)
ax.set_ylim(13713, 14996)
ax.set_yticks(range(13800, 14801, 200))
ax.set_xlabel("UTC date")
ax.set_ylabel("Altitude (m AMSL)")
ax.set_title("Balloon Altitude vs. Time", fontsize=12)

# Histogram
ax = add_ax(850, 1545, 798, 1101)
ax.bar(bin_left, u_counts, width=5, align="edge", color="#1f77b4", alpha=0.65, edgecolor="black", label="U (zonal)", zorder=3)
ax.bar(bin_left, v_counts, width=5, align="edge", color="#ff7f0e", alpha=0.65, edgecolor="black", label="V (meridional)", zorder=3)
ax.set_xlim(-100, 100)
ax.set_ylim(0, 989)
ax.set_xticks(range(-100, 101, 25))
ax.set_yticks(range(0, 801, 200))
ax.grid(True, **GRID)
ax.set_axisbelow(True)
ax.set_xlabel("Wind speed (m s$^{-1}$)")
ax.set_ylabel("Frequency")
ax.set_title("U and V Wind Components", fontsize=12)
ax.legend(loc="upper right", fontsize=8)

fig.savefig("out.png", dpi=100)
